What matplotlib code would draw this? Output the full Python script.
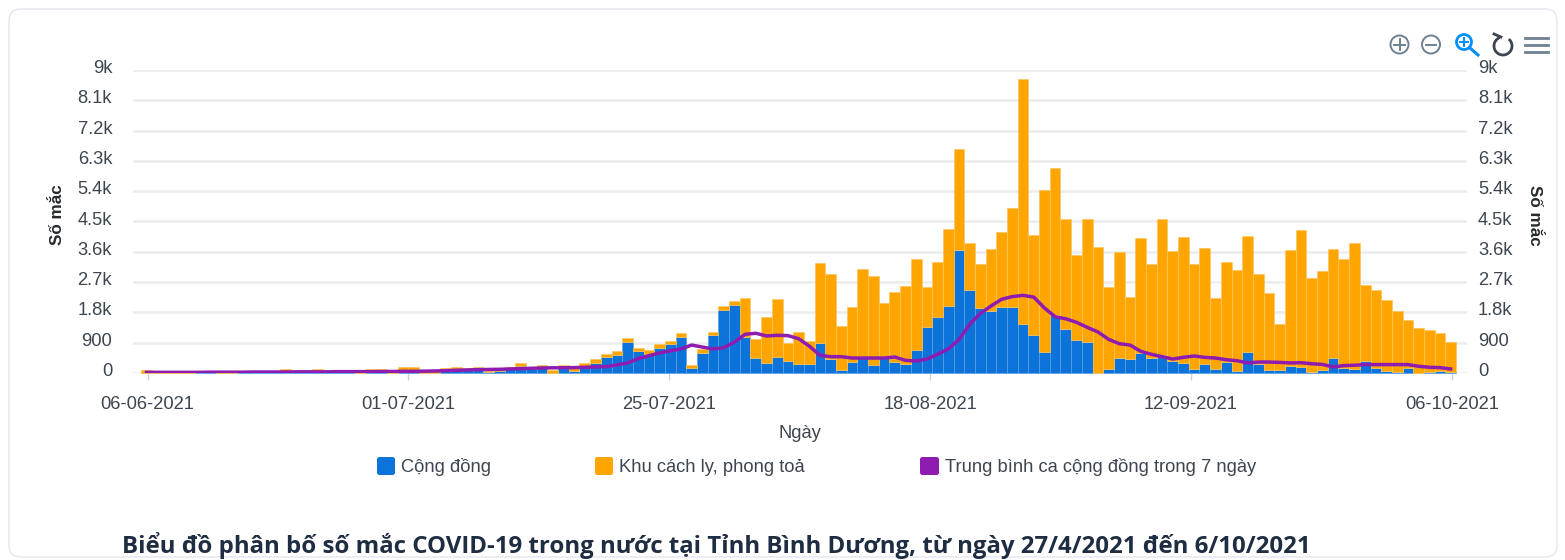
import numpy as np
import matplotlib
matplotlib.use("Agg")
import matplotlib.pyplot as plt
from matplotlib.patches import FancyBboxPatch, Circle, Arc
from matplotlib.transforms import Affine2D, ScaledTranslation

plt.rcParams['font.family'] = ['Liberation Sans', 'DejaVu Sans']

W, H = 1565, 560

tick_labels = ['06-06-2021', '01-07-2021', '25-07-2021', '18-08-2021', '12-09-2021', '06-10-2021']
y_ticks = [0, 900, 1800, 2700, 3600, 4500, 5400, 6300, 7200, 8100, 9000]
y_labels = ['0', '900', '1.8k', '2.7k', '3.6k', '4.5k', '5.4k', '6.3k', '7.2k', '8.1k', '9k']

# total cases per day (community + quarantine), 06-06-2021 .. 06-10-2021
tong = [80, 20, 20, 20, 20, 30, 30, 20, 20, 40, 30, 30, 30, 110, 40, 50, 110, 60, 100, 100,
        60, 110, 110, 40, 170, 170, 60, 60, 140, 190, 140, 190, 60, 70, 190, 290, 180, 240, 90, 240,
        140, 300, 405, 575, 645, 1040, 750, 685, 860, 960, 1180, 250, 710, 1230, 1990, 2140, 2240, 1010, 1670, 2200,
        880, 1230, 950, 3270, 2940, 1390, 1960, 3080, 2870, 2090, 2415, 2575, 3385, 2565, 3305, 4280, 6650, 3850, 3240, 3680,
        4190, 4910, 8730, 4100, 5450, 6090, 4580, 3495, 4560, 3730, 2540, 3600, 2260, 4020, 3230, 4580, 3620, 4030, 3250, 3710,
        2240, 3300, 3060, 4070, 2940, 2390, 1465, 3660, 4240, 2820, 3040, 3690, 3390, 3850, 2620, 2455, 2160, 1840, 1585, 1345,
        1280, 1180, 920]
# community cases
cong_dong = [0, 10, 10, 10, 10, 15, 15, 10, 10, 20, 15, 15, 15, 40, 20, 20, 50, 30, 40, 50,
             0, 60, 50, 0, 90, 90, 0, 0, 50, 110, 90, 110, 40, 80, 120, 200, 120, 170, 0, 170,
             60, 220, 305, 475, 545, 930, 645, 575, 750, 850, 1070, 140, 600, 1120, 1880, 2030, 1060, 445, 300, 465,
             355, 260, 280, 900, 425, 90, 335, 495, 240, 470, 325, 255, 670, 1375, 1670, 1990, 3650, 2475, 1930, 1830,
             1960, 1950, 1465, 1140, 630, 1710, 1300, 970, 910, 0, 120, 435, 405, 595, 435, 535, 365, 305, 130, 265,
             110, 325, 70, 635, 265, 90, 80, 210, 180, 40, 80, 435, 160, 130, 355, 160, 50, 40, 140, 10,
             40, 60, 20]
# 7-day average of community cases
trung_binh = [20, 20, 20, 20, 20, 20, 25, 25, 25, 25, 30, 30, 30, 30, 35, 35, 35, 35, 40, 40,
              40, 40, 45, 45, 50, 50, 55, 60, 70, 80, 90, 100, 105, 110, 120, 130, 140, 150, 155, 155,
              160, 170, 180, 190, 240, 300, 425, 515, 595, 655, 715, 830, 770, 715, 750, 920, 1150, 1180, 1100, 1120,
              1110, 1020, 800, 525, 485, 485, 445, 445, 445, 445, 475, 375, 355, 415, 555, 715, 990, 1445, 1770, 1990,
              2190, 2270, 2305, 2255, 1930, 1670, 1610, 1505, 1355, 1220, 1000, 870, 830, 645, 555, 485, 415, 465, 505, 465,
              445, 395, 365, 300, 325, 325, 315, 300, 305, 275, 255, 180, 220, 230, 250, 250, 250, 250, 250, 200,
              170, 160, 120]

BLUE, ORANGE, PURPLE = '#0b73d9', '#ffa500', '#8e1cb0'
TXT = '#3d4650'
FS = 13.2

x = np.arange(len(tong))
cong_dong_arr = np.array(cong_dong)
cach_ly = np.array(tong) - cong_dong_arr

fig = plt.figure(figsize=(W / 100, H / 100), dpi=100, facecolor='white')
px = Affine2D().scale(1, -1).translate(0, H)   # pixel coords, origin top-left

# overlay for card, icons and legend
ov = fig.add_axes([0, 0, 1, 1], zorder=0)
ov.set_xlim(0, W); ov.set_ylim(H, 0); ov.axis('off')
ov.add_patch(FancyBboxPatch((9, 9), 1548, 548, boxstyle='round,pad=0,rounding_size=12',
                            fc='white', ec='#e8eaf1', lw=1.2))

# main axes: left 133, right 1467, y 0 at 373, 9k at 70
L, R, T, B = 133, 1467, 70, 373
ax = fig.add_axes([L / W, 1 - B / H, (R - L) / W, (B - T) / H], zorder=2)
ax.patch.set_alpha(0)
step = 10.69
ax.set_xlim(-(146.5 - L) / step, (R - 146.5) / step)
ax.set_ylim(0, 9000)
ax.grid(axis='y', color='#ececec', lw=1.8, zorder=0)
ax.set_axisbelow(True)
for s in ax.spines.values():
    s.set_visible(False)

ax.bar(x, cong_dong_arr, width=1.0, color=BLUE, edgecolor='#5aa2e6', lw=0.5, zorder=2, clip_on=False)
ax.bar(x, cach_ly, bottom=cong_dong_arr, width=1.0, color=ORANGE, edgecolor='#ffc55e', lw=0.5, zorder=2, clip_on=False)
ax.plot(x, trung_binh, color=PURPLE, lw=2.5, zorder=3, solid_joinstyle='round')

ax.set_xticks(np.linspace(0, 122, 6) + 0.1)
ax.set_xticklabels(tick_labels)
ax.tick_params(axis='x', length=5, width=1, color='#d0d3d8', pad=11.7, labelsize=FS, labelcolor=TXT)
ax.set_yticks(y_ticks)
ax.set_yticklabels(y_labels)
ax.tick_params(axis='y', length=0, pad=15, labelsize=FS, labelcolor=TXT)
ax.set_xlabel('Ngày', fontsize=FS, color=TXT)
ax.xaxis.set_label_coords(800, 434, transform=px)
ax.xaxis.label.set_va('center')
ax.set_ylabel('Số mắc', fontsize=12.3, fontweight='bold', color='#262b30')
ax.yaxis.set_label_coords(58, 215, transform=px)
ax.yaxis.label.set_va('center')

ax2 = ax.twinx()
ax2.patch.set_alpha(0)
ax2.set_ylim(0, 9000)
ax2.set_yticks(y_ticks)
ax2.set_yticklabels(y_labels)
ax2.tick_params(axis='y', length=0, pad=8, labelsize=FS, labelcolor=TXT)
for s in ax2.spines.values():
    s.set_visible(False)
ax2.set_ylabel('Số mắc', fontsize=12.3, fontweight='bold', color='#262b30', rotation=-90)
ax2.yaxis.set_label_coords(1534, 215, transform=px)
ax2.yaxis.label.set_va('center')
ax2.yaxis.label.set_ha('center')

up = ScaledTranslation(0, 2.5 / 72, fig.dpi_scale_trans)
for lab in ax.get_yticklabels() + ax2.get_yticklabels():
    lab.set_transform(lab.get_transform() + up)

# legend
leg = [(377, 18, BLUE, 'Cộng đồng', 401), (595, 18, ORANGE, 'Khu cách ly, phong toả', 619),
       (920, 19, PURPLE, 'Trung bình ca cộng đồng trong 7 ngày', 945)]
for x0, w, c, lbl, tx in leg:
    ov.add_patch(FancyBboxPatch((x0, 457), w, 18, boxstyle='round,pad=0,rounding_size=2.5', fc=c, ec='none'))
    ov.text(tx, 467.5, lbl, fontsize=FS, color=TXT, va='center', ha='left')

# title
ov.text(122, 546, 'Biểu đồ phân bố số mắc COVID-19 trong nước tại Tỉnh Bình Dương, từ ngày 27/4/2021 đến 6/10/2021',
        fontsize=17.3, fontweight='bold', color='#1e2d42', va='center', ha='left',
        family=['Open Sans', 'DejaVu Sans'])

# toolbar icons
GR = '#6e8192'
ov.add_patch(Circle((1399.5, 44.5), 9, fc='none', ec=GR, lw=1.4))
ov.plot([1394, 1405], [44.5, 44.5], color=GR, lw=1.4)
ov.plot([1399.5, 1399.5], [39, 50], color=GR, lw=1.4)
ov.add_patch(Circle((1431, 44.5), 9, fc='none', ec=GR, lw=1.4))
ov.plot([1426, 1436], [44.5, 44.5], color=GR, lw=1.4)
ZC = '#008ffb'
ov.add_patch(Circle((1464, 42), 7.5, fc='none', ec=ZC, lw=2))
ov.plot([1470, 1478], [48, 55], color=ZC, lw=2.2)
ov.plot([1460, 1468], [42, 42], color=ZC, lw=1.4)
ov.plot([1464, 1464], [38, 46], color=ZC, lw=1.4)
ov.add_patch(Arc((1503, 46), 18, 18, theta1=-50, theta2=250, ec='#3d4650', lw=2))
ov.plot([1494, 1501], [34, 37], color='#3d4650', lw=2)
for yy in (38, 45, 52):
    ov.plot([1525, 1548], [yy, yy], color=GR, lw=2)

fig.savefig('out.png', dpi=100)
